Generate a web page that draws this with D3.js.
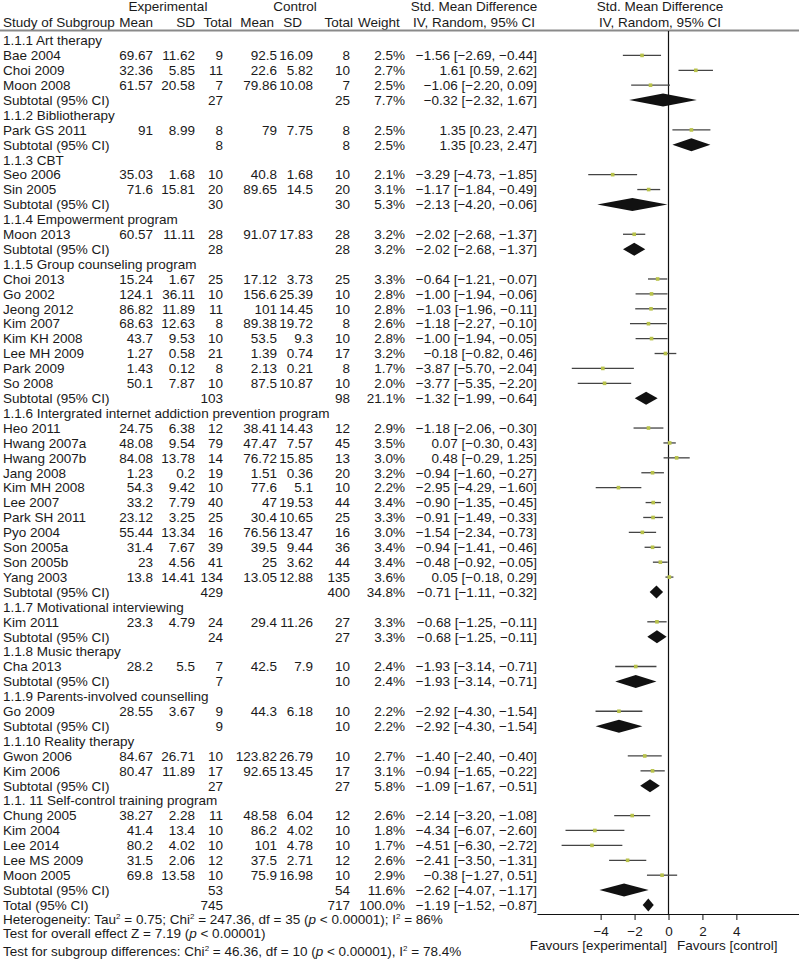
<!DOCTYPE html>
<html>
<head>
<meta charset="utf-8">
<script src="https://cdn.jsdelivr.net/npm/d3@7"></script>
<style>
  body { margin: 0; background: #fff; }
  svg text { font-family: "Liberation Sans", Arial, sans-serif; font-size: 13.5px; fill: #1a1a1a; }
</style>
</head>
<body>
<div id="chart"></div>
<script>
// subgroup headings
const groupNames = [
  "1.1.1 Art therapy", "1.1.2 Bibliotherapy", "1.1.3 CBT", "1.1.4 Empowerment program",
  "1.1.5 Group counseling program", "1.1.6 Intergrated internet addiction prevention program",
  "1.1.7 Motivational interviewing", "1.1.8 Music therapy", "1.1.9 Parents-involved counselling",
  "1.1.10 Reality therapy", "1.1. 11 Self-control training program"
];

// studies (group index for each)
const studyNames = [
  "Bae 2004", "Choi 2009", "Moon 2008",
  "Park GS 2011",
  "Seo 2006", "Sin 2005",
  "Moon 2013",
  "Choi 2013", "Go 2002", "Jeong 2012", "Kim 2007", "Kim KH 2008", "Lee MH 2009", "Park 2009", "So 2008",
  "Heo 2011", "Hwang 2007a", "Hwang 2007b", "Jang 2008", "Kim MH 2008", "Lee 2007", "Park SH 2011", "Pyo 2004", "Son 2005a", "Son 2005b", "Yang 2003",
  "Kim 2011",
  "Cha 2013",
  "Go 2009",
  "Gwon 2006", "Kim 2006",
  "Chung 2005", "Kim 2004", "Lee 2014", "Lee MS 2009", "Moon 2005"
];
const studyGroup = [0,0,0, 1, 2,2, 3, 4,4,4,4,4,4,4,4, 5,5,5,5,5,5,5,5,5,5,5, 6, 7, 8, 9,9, 10,10,10,10,10];

const expMean = [69.67, 32.36, 61.57, 91, 35.03, 71.6, 60.57, 15.24, 124.1, 86.82, 68.63, 43.7, 1.27, 1.43, 50.1,
  24.75, 48.08, 84.08, 1.23, 54.3, 33.2, 23.12, 55.44, 31.4, 23, 13.8, 23.3, 28.2, 28.55, 84.67, 80.47,
  38.27, 41.4, 80.2, 31.5, 69.8];
const expSD = [11.62, 5.85, 20.58, 8.99, 1.68, 15.81, 11.11, 1.67, 36.11, 11.89, 12.63, 9.53, 0.58, 0.12, 7.87,
  6.38, 9.54, 13.78, 0.2, 9.42, 7.79, 3.25, 13.34, 7.67, 4.56, 14.41, 4.79, 5.5, 3.67, 26.71, 11.89,
  2.28, 13.4, 4.02, 2.06, 13.58];
const expN = [9, 11, 7, 8, 10, 20, 28, 25, 10, 11, 8, 10, 21, 8, 10,
  12, 79, 14, 19, 10, 40, 25, 16, 39, 41, 134, 24, 7, 9, 10, 17,
  11, 10, 10, 12, 10];
const ctlMean = [92.5, 22.6, 79.86, 79, 40.8, 89.65, 91.07, 17.12, 156.6, 101, 89.38, 53.5, 1.39, 2.13, 87.5,
  38.41, 47.47, 76.72, 1.51, 77.6, 47, 30.4, 76.56, 39.5, 25, 13.05, 29.4, 42.5, 44.3, 123.82, 92.65,
  48.58, 86.2, 101, 37.5, 75.9];
const ctlSD = [16.09, 5.82, 10.08, 7.75, 1.68, 14.5, 17.83, 3.73, 25.39, 14.45, 19.72, 9.3, 0.74, 0.21, 10.87,
  14.43, 7.57, 15.85, 0.36, 5.1, 19.53, 10.65, 13.47, 9.44, 3.62, 12.88, 11.26, 7.9, 6.18, 26.79, 13.45,
  6.04, 4.02, 4.78, 2.71, 16.98];
const ctlN = [8, 10, 7, 8, 10, 20, 28, 25, 10, 10, 8, 10, 17, 8, 10,
  12, 45, 13, 20, 10, 44, 25, 16, 36, 44, 135, 27, 10, 10, 10, 17,
  12, 10, 10, 12, 10];
const weights = [2.5, 2.7, 2.5, 2.5, 2.1, 3.1, 3.2, 3.3, 2.8, 2.8, 2.6, 2.8, 3.2, 1.7, 2.0,
  2.9, 3.5, 3.0, 3.2, 2.2, 3.4, 3.3, 3.0, 3.4, 3.4, 3.6, 3.3, 2.4, 2.2, 2.7, 3.1,
  2.6, 1.8, 1.7, 2.6, 2.9];
const smd = [-1.56, 1.61, -1.06, 1.35, -3.29, -1.17, -2.02, -0.64, -1.00, -1.03, -1.18, -1.00, -0.18, -3.87, -3.77,
  -1.18, 0.07, 0.48, -0.94, -2.95, -0.90, -0.91, -1.54, -0.94, -0.48, 0.05, -0.68, -1.93, -2.92, -1.40, -0.94,
  -2.14, -4.34, -4.51, -2.41, -0.38];
const ciLow = [-2.69, 0.59, -2.20, 0.23, -4.73, -1.84, -2.68, -1.21, -1.94, -1.96, -2.27, -1.94, -0.82, -5.70, -5.35,
  -2.06, -0.30, -0.29, -1.60, -4.29, -1.35, -1.49, -2.34, -1.41, -0.92, -0.18, -1.25, -3.14, -4.30, -2.40, -1.65,
  -3.20, -6.07, -6.30, -3.50, -1.27];
const ciHigh = [-0.44, 2.62, 0.09, 2.47, -1.85, -0.49, -1.37, -0.07, -0.06, -0.11, -0.10, -0.05, 0.46, -2.04, -2.20,
  -0.30, 0.43, 1.25, -0.27, -1.60, -0.45, -0.33, -0.73, -0.46, -0.05, 0.29, -0.11, -0.71, -1.54, -0.40, -0.22,
  -1.08, -2.60, -2.72, -1.31, 0.51];

// subgroup pooled results
const subExpN = [27, 8, 30, 28, 103, 429, 24, 7, 9, 27, 53];
const subCtlN = [25, 8, 30, 28, 98, 400, 27, 10, 10, 27, 54];
const subWeight = [7.7, 2.5, 5.3, 3.2, 21.1, 34.8, 3.3, 2.4, 2.2, 5.8, 11.6];
const subSmd = [-0.32, 1.35, -2.13, -2.02, -1.32, -0.71, -0.68, -1.93, -2.92, -1.09, -2.62];
const subLow = [-2.32, 0.23, -4.20, -2.68, -1.99, -1.11, -1.25, -3.14, -4.30, -1.67, -4.07];
const subHigh = [1.67, 2.47, -0.06, -1.37, -0.64, -0.32, -0.11, -0.71, -1.54, -0.51, -1.17];

// overall
const totalN = [745, 717];
const totalWeight = 100.0;
const totalEst = [-1.19, -1.52, -0.87];

const axisTicks = [-4, -2, 0, 2, 4];

// ---- build row list ----
const rows = [];
groupNames.forEach((g, gi) => {
  rows.push({ type: "head", label: g });
  studyNames.forEach((s, i) => {
    if (studyGroup[i] !== gi) return;
    rows.push({ type: "study", label: s, em: expMean[i], es: expSD[i], en: expN[i],
      cm: ctlMean[i], cs: ctlSD[i], cn: ctlN[i], w: weights[i], est: smd[i], lo: ciLow[i], hi: ciHigh[i] });
  });
  rows.push({ type: "sub", label: "Subtotal (95% CI)", en: subExpN[gi], cn: subCtlN[gi], w: subWeight[gi],
    est: subSmd[gi], lo: subLow[gi], hi: subHigh[gi] });
});
rows.push({ type: "sub", label: "Total (95% CI)", en: totalN[0], cn: totalN[1], w: totalWeight,
  est: totalEst[0], lo: totalEst[1], hi: totalEst[2] });

const W = 799, H = 966;
const svg = d3.select("#chart").append("svg").attr("width", W).attr("height", H);

const y = d3.scaleLinear().domain([0, rows.length - 1]).range([40.5, 905]);
const x = d3.scaleLinear().domain([-7.75, 7.75]).range([537, 800]);
const f2 = d3.format(".2f");
const f1 = d3.format(".1f");
const base = 4.8;

// columns (right edges)
const col = { em: 153, es: 195, en: 223, cm: 277, cs: 313, cn: 350, w: 405, eff: 537 };

// ---- header ----
const hdr = svg.append("g");
hdr.append("text").attr("x", 168).attr("y", 11).attr("text-anchor", "middle").text("Experimental");
hdr.append("text").attr("x", 295).attr("y", 11).attr("text-anchor", "middle").text("Control");
hdr.append("text").attr("x", 474).attr("y", 11).attr("text-anchor", "middle").text("Std. Mean Difference");
hdr.append("text").attr("x", 660).attr("y", 11).attr("text-anchor", "middle").text("Std. Mean Difference");
const h2 = 27;
hdr.append("text").attr("x", 3).attr("y", h2).text("Study of Subgroup");
[["Mean", 153], ["SD", 195], ["Total", 232], ["Mean", 274], ["SD", 302], ["Total", 353]].forEach(([t, xx]) => {
  hdr.append("text").attr("x", xx).attr("y", h2).attr("text-anchor", "end").text(t);
});
hdr.append("text").attr("x", 358).attr("y", h2).text("Weight");
hdr.append("text").attr("x", 474).attr("y", h2).attr("text-anchor", "middle").text("IV, Random, 95% CI");
hdr.append("text").attr("x", 660).attr("y", h2).attr("text-anchor", "middle").text("IV, Random, 95% CI");
svg.append("line").attr("x1", 0).attr("x2", W).attr("y1", 30.5).attr("y2", 30.5)
  .attr("stroke", "#8a8a8a").attr("stroke-width", 2);

// zero line
const axisY = 914;
svg.append("line").attr("x1", x(0)).attr("x2", x(0)).attr("y1", 31).attr("y2", axisY)
  .attr("stroke", "#111").attr("stroke-width", 1.2);

// ---- table rows ----
const tbl = svg.append("g");
rows.forEach((r, i) => {
  const yy = y(i) + base;
  tbl.append("text").attr("x", 3).attr("y", yy).text(r.label);
  if (r.type === "head") return;
  const cells = [];
  if (r.type === "study") {
    cells.push([String(r.em), col.em], [String(r.es), col.es], [String(r.cm), col.cm], [String(r.cs), col.cs]);
  }
  cells.push([String(r.en), col.en], [String(r.cn), col.cn], [f1(r.w) + "%", col.w],
    [f2(r.est) + " [" + f2(r.lo) + ", " + f2(r.hi) + "]", col.eff]);
  cells.forEach(([t, xx]) => {
    tbl.append("text").attr("x", xx).attr("y", yy).attr("text-anchor", "end").text(t);
  });
});

// ---- plot marks ----
const plot = svg.append("g");
const studies = rows.map((r, i) => Object.assign({ i }, r)).filter(r => r.type === "study");
const pooled = rows.map((r, i) => Object.assign({ i }, r)).filter(r => r.type === "sub");

plot.selectAll("line.ci").data(studies).enter().append("line")
  .attr("class", "ci")
  .attr("x1", d => x(d.lo)).attr("x2", d => x(d.hi))
  .attr("y1", d => y(d.i)).attr("y2", d => y(d.i))
  .attr("stroke", "#444").attr("stroke-width", 1.3);

const sq = 3.6;
plot.selectAll("rect.pt").data(studies).enter().append("rect")
  .attr("class", "pt")
  .attr("x", d => x(d.est) - sq / 2).attr("y", d => y(d.i) - sq / 2)
  .attr("width", sq).attr("height", sq)
  .attr("fill", "#b8c24a");

const dh = 6.5;
plot.selectAll("path.dia").data(pooled).enter().append("path")
  .attr("class", "dia")
  .attr("d", d => {
    const yc = y(d.i);
    return `M${x(d.lo)},${yc}L${x(d.est)},${yc - dh}L${x(d.hi)},${yc}L${x(d.est)},${yc + dh}Z`;
  })
  .attr("fill", "#111");

// ---- axis ----
const axis = svg.append("g")
  .attr("transform", `translate(0,${axisY})`)
  .call(d3.axisBottom(x).tickValues(axisTicks).tickSizeInner(6).tickSizeOuter(0).tickPadding(6));
axis.select(".domain").attr("stroke", "#111");
axis.selectAll(".tick line").attr("stroke", "#111");
axis.selectAll(".tick text").style("font-size", "13.5px").attr("fill", "#1a1a1a");

svg.append("text").attr("x", 667).attr("y", 950).attr("text-anchor", "end").text("Favours [experimental]");
svg.append("text").attr("x", 677).attr("y", 950).text("Favours [control]");

// ---- footer (text pieces, "^" marks a superscript, "_" italic) ----
function rich(yy, parts) {
  const t = svg.append("text").attr("x", 3).attr("y", yy);
  let shift = 0;
  parts.forEach(p => {
    const s = t.append("tspan");
    if (p[0] === "^") {
      s.attr("dy", -5 - shift).style("font-size", "8px").text(p.slice(1));
      shift = -5;
    } else {
      if (shift) s.attr("dy", -shift);
      shift = 0;
      if (p[0] === "_") s.style("font-style", "italic").text(p.slice(1));
      else s.text(p);
    }
  });
}
rich(924, ["Heterogeneity: Tau", "^2", " = 0.75; Chi", "^2", " = 247.36, df = 35 (", "_p", " < 0.00001); I", "^2", " = 86%"]);
rich(938, ["Test for overall effect Z = 7.19 (", "_p", " < 0.00001)"]);
rich(956, ["Test for subgroup differences: Chi", "^2", " = 46.36, df = 10 (", "_p", " < 0.00001), I", "^2", " = 78.4%"]);
</script>
</body>
</html>
